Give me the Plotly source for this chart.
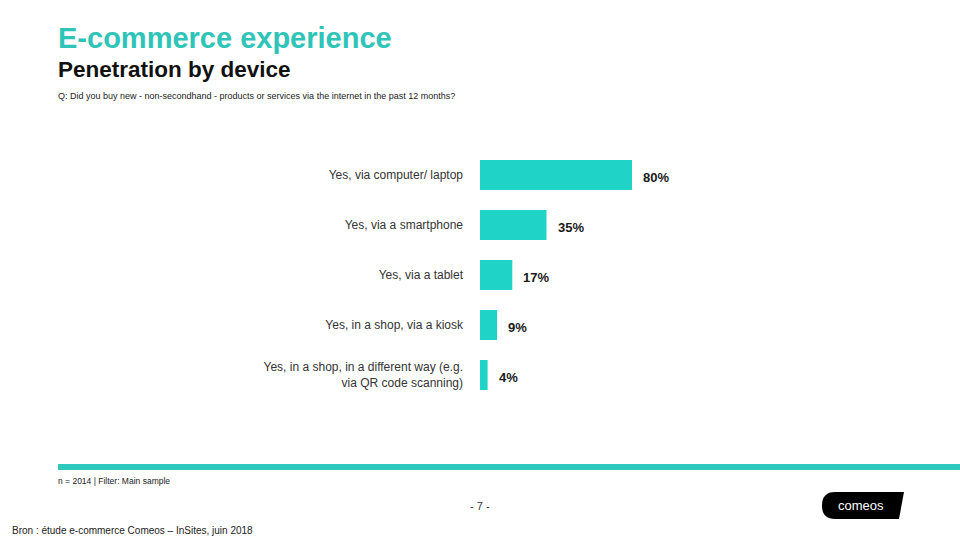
import plotly.graph_objects as go

categories = [
    "Yes, via computer/ laptop",
    "Yes, via a smartphone",
    "Yes, via a tablet",
    "Yes, in a shop, via a kiosk",
    "Yes, in a shop, in a different way (e.g.<br>via QR code scanning)",
]
values = [80, 35, 17, 9, 4]
value_labels = ["80%", "35%", "17%", "9%", "4%"]

TEAL = "#1fd3c6"
FONT = "Liberation Sans, Arial, sans-serif"

# plot area in pixels: x 480..670 (0..100 %), y 150..400
L, R, T, B = 480, 290, 150, 140
PW, PH = 960 - L - R, 540 - T - B


def px2x(px):
    return (px - L) / PW


def py2y(py):
    return (540 - B - py) / PH


fig = go.Figure()
fig.add_trace(go.Bar(
    x=values, y=categories, orientation="h",
    marker=dict(color=TEAL, line=dict(width=0)),
    width=0.6, hoverinfo="x+y",
))

# value labels a little away from the bar ends
for cat, v, lab in zip(categories, values, value_labels):
    fig.add_annotation(x=v, y=cat, text=lab, showarrow=False,
                       xanchor="left", yanchor="middle", xshift=9, yshift=-2,
                       font=dict(family=FONT, size=13, color="#1a1a1a", weight="bold"))

fig.update_layout(
    width=960, height=540,
    margin=dict(l=L, r=R, t=T, b=B),
    paper_bgcolor="white", plot_bgcolor="white",
    showlegend=False,
    font=dict(family=FONT, color="#333333"),
    xaxis=dict(range=[0, 100], visible=False, fixedrange=True),
    yaxis=dict(autorange="reversed", showgrid=False, zeroline=False,
               showline=False, ticks="", ticklabelstandoff=16,
               tickfont=dict(family=FONT, size=12, color="#333333")),
)

heads = [
    ("E-commerce experience", 56, 38, 29, "#2ec4b8", "bold", "left"),
    ("Penetration by device", 56, 70, 22.5, "#111111", "bold", "left"),
    ("Q: Did you buy new - non-secondhand - products or services via the internet in the past 12 months?",
     56, 96, 9, "#222222", "normal", "left"),
    ("n = 2014 | Filter: Main sample", 56, 481, 8.5, "#222222", "normal", "left"),
    ("- 7 -", 480, 506, 11, "#333333", "normal", "center"),
    ("Bron : étude e-commerce Comeos – InSites, juin 2018", 10, 530, 10, "#222222", "normal", "left"),
]
for txt, px, py, sz, col, wt, anc in heads:
    fig.add_annotation(
        text=txt, x=px2x(px), y=py2y(py), xref="paper", yref="paper",
        xanchor=anc, yanchor="middle", showarrow=False,
        font=dict(family=FONT, size=sz, color=col, weight=wt),
    )

# teal footer line
fig.add_shape(type="line", xref="paper", yref="paper",
              x0=px2x(58), x1=px2x(960), y0=py2y(467), y1=py2y(467),
              line=dict(color="#2cc9bc", width=6))

# comeos logo
fig.add_shape(type="path", xref="paper", yref="paper",
              path=(f"M {px2x(835)} {py2y(492)} L {px2x(904)} {py2y(492)} "
                    f"L {px2x(899)} {py2y(519)} L {px2x(835)} {py2y(519)} "
                    f"Q {px2x(822)} {py2y(519)} {px2x(822)} {py2y(505.5)} "
                    f"Q {px2x(822)} {py2y(492)} {px2x(835)} {py2y(492)} Z"),
              fillcolor="#000000", line=dict(width=0))
fig.add_annotation(text="comeos", x=px2x(861), y=py2y(505), xref="paper", yref="paper",
                   xanchor="center", yanchor="middle", showarrow=False,
                   font=dict(family=FONT, size=13, color="white"))

fig.write_html("out.html", config={"displayModeBar": False},
               post_script="document.body.style.margin='0';")
